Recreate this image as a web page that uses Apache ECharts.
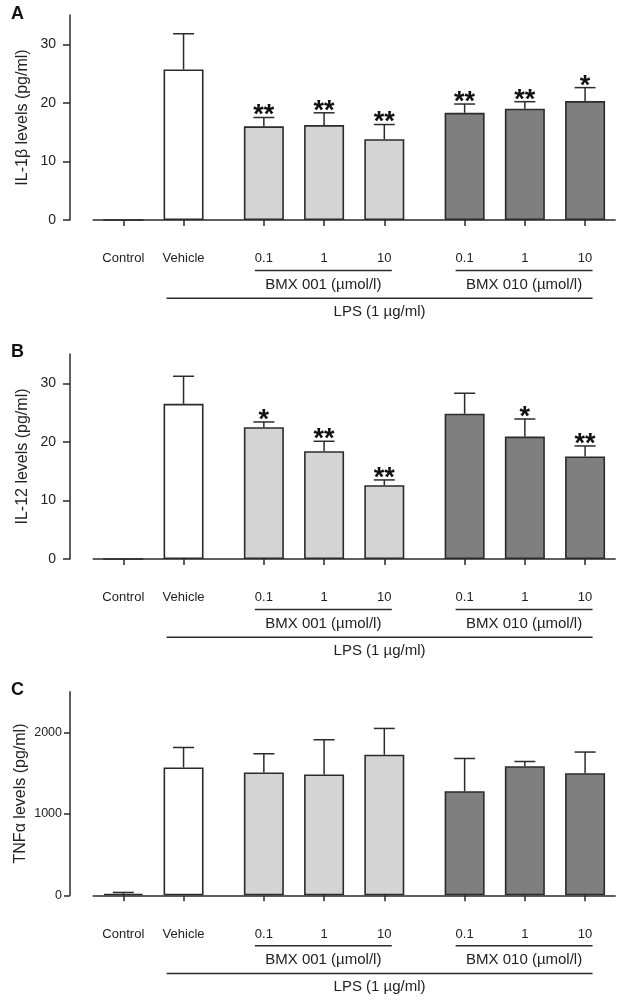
<!DOCTYPE html>
<html>
<head>
<meta charset="utf-8">
<script src="https://cdn.jsdelivr.net/npm/echarts@6/dist/echarts.min.js"></script>
<style>
html,body{margin:0;padding:0;background:#fff;}
#chart{width:627px;height:1000px;}
</style>
</head>
<body>
<div id="chart"></div>
<script>
// ---------- DATA ----------
const categories = ['Control', 'Vehicle', '0.1', '1', '10', '0.1', '1', '10'];
const treatmentGroup = ['none', 'none', 'BMX001', 'BMX001', 'BMX001', 'BMX010', 'BMX010', 'BMX010'];

const il1bMean = [0, 25.7, 16.0, 16.2, 13.8, 18.3, 19.0, 20.3];
const il1bSem  = [0, 6.1, 1.5, 2.1, 2.5, 1.5, 1.2, 2.3];
const il1bSig  = ['', '', '**', '**', '**', '**', '**', '*'];

const il12Mean = [0, 26.5, 22.5, 18.4, 12.6, 24.8, 20.9, 17.5];
const il12Sem  = [0, 4.7, 0.9, 1.7, 0.9, 3.5, 3.0, 1.8];
const il12Sig  = ['', '', '*', '**', '**', '', '*', '**'];

const tnfMean = [18, 1569, 1508, 1483, 1726, 1279, 1586, 1500];
const tnfSem  = [17, 246, 230, 427, 323, 401, 57, 259];
const tnfSig  = ['', '', '', '', '', '', '', ''];

const ilTicks  = [0, 10, 20, 30];
const tnfTicks = [0, 1000, 2000];

const groupLabels = ['BMX 001 (\u00b5mol/l)', 'BMX 010 (\u00b5mol/l)', 'LPS (1 \u00b5g/ml)'];

// ---------- LAYOUT / STYLE ----------
const slotPos = [1, 4, 8, 11, 14, 18, 21, 24];   // category slots on the x axis
const slotCount = 26;
const fillColor = { none: '#ffffff', BMX001: '#d4d4d4', BMX010: '#7f7f7f' };
const ink = '#2b2b2b';
const FONT = '"Liberation Sans", Arial, sans-serif';

const xNames = new Array(slotCount).fill('');
slotPos.forEach((s, i) => { xNames[s] = categories[i]; });
const isCat = (idx) => xNames[idx] !== '';

// bracket definitions: [first category index, last category index, label index, level]
const brackets = [[2, 4, 0, 0], [5, 7, 1, 0], [1, 7, 2, 1]];

const panels = [
  { letter: 'A', name: 'IL-1\u03b2 levels (pg/ml)', mean: il1bMean, sem: il1bSem, sig: il1bSig,
    max: 35, ticks: ilTicks, top: 15, height: 205, labSize: 14, labMargin: 14, tickLen: 7, titleTop: 5, nameGap: 39 },
  { letter: 'B', name: 'IL-12 levels (pg/ml)', mean: il12Mean, sem: il12Sem, sig: il12Sig,
    max: 35, ticks: ilTicks, top: 354, height: 205, labSize: 14, labMargin: 14, tickLen: 7, titleTop: 343, nameGap: 39 },
  { letter: 'C', name: 'TNF\u03b1 levels (pg/ml)', mean: tnfMean, sem: tnfSem, sig: tnfSig,
    max: 2500, ticks: tnfTicks, top: 691.7, height: 203.6, labSize: 12.5, labMargin: 8, tickLen: 6, titleTop: 681, nameGap: 41 }
];

const option = {
  animation: false,
  backgroundColor: '#fff',
  title: [], grid: [], xAxis: [], yAxis: [], series: []
};

panels.forEach((p, gi) => {
  option.title.push({
    text: p.letter, left: 11, top: p.titleTop, padding: 0,
    textStyle: { fontFamily: FONT, fontSize: 18, fontWeight: 'bold', color: '#111' }
  });
  option.grid.push({ left: 93.2, right: 11.8, top: p.top, height: p.height,
                     containLabel: false, outerBoundsMode: 'none' });
  option.xAxis.push({
    type: 'category', gridIndex: gi, data: xNames, offset: 23.3,
    axisLine: { show: true, lineStyle: { color: ink, width: 1.5 } },
    axisTick: { show: true, alignWithLabel: true, length: 6, interval: (i) => isCat(i),
                lineStyle: { color: ink, width: 1.5 } },
    axisLabel: { show: true, interval: (i) => isCat(i), margin: 9,
                 fontFamily: FONT, fontSize: 13, color: '#222' },
    splitLine: { show: false }
  });
  option.yAxis.push({
    type: 'value', gridIndex: gi, min: 0, max: p.max, offset: 23.2,
    name: p.name, nameLocation: 'middle', nameGap: p.nameGap, nameMoveOverlap: false,
    nameTextStyle: { fontFamily: FONT, fontSize: 16, color: '#222' },
    axisLine: { show: true, lineStyle: { color: ink, width: 1.5 } },
    axisTick: { show: true, length: p.tickLen, customValues: p.ticks, lineStyle: { color: ink, width: 1.5 } },
    axisLabel: { customValues: p.ticks, margin: p.labMargin, fontFamily: FONT, fontSize: p.labSize,
                 color: '#222', formatter: (v) => String(v) },
    splitLine: { show: false }
  });

  const barData = new Array(slotCount).fill('-');
  slotPos.forEach((s, i) => {
    barData[s] = { value: p.mean[i], itemStyle: { color: fillColor[treatmentGroup[i]] } };
  });
  option.series.push({
    type: 'bar', xAxisIndex: gi, yAxisIndex: gi, data: barData, barWidth: 40,
    barGap: '-100%', silent: true,
    itemStyle: { borderColor: ink, borderWidth: 1.6 }
  });

  // error bars + significance marks
  const errData = slotPos.map((s, i) => [s, p.mean[i], p.mean[i] + p.sem[i], i]);
  option.series.push({
    type: 'custom', xAxisIndex: gi, yAxisIndex: gi, data: errData, silent: true, clip: false, z: 5,
    renderItem: (params, api) => {
      const i = api.value(3);
      if (!(p.sem[i] > 0)) return null;
      const base = api.coord([api.value(0), api.value(1)]);
      const top = api.coord([api.value(0), api.value(2)]);
      const children = [
        { type: 'line', shape: { x1: base[0], y1: base[1], x2: top[0], y2: top[1] },
          style: { stroke: ink, lineWidth: 1.5 } },
        { type: 'line', shape: { x1: top[0] - 10.5, y1: top[1], x2: top[0] + 10.5, y2: top[1] },
          style: { stroke: ink, lineWidth: 1.5 } }
      ];
      if (p.sig[i]) {
        children.push({ type: 'text', style: {
          text: p.sig[i], x: top[0], y: top[1] - 1.5, align: 'center', verticalAlign: 'middle',
          fontFamily: FONT, fontSize: 27, fontWeight: 'bold', fill: '#111' } });
      }
      return { type: 'group', children };
    }
  });

  // group brackets under the axis
  option.series.push({
    type: 'custom', xAxisIndex: gi, yAxisIndex: gi, data: brackets, silent: true, clip: false,
    renderItem: (params, api) => {
      const b = brackets[params.dataIndex];
      const left = api.coord([slotPos[b[0]], 0]);
      const right = api.coord([slotPos[b[1]], 0]);
      const y0 = left[1];
      const lineY = y0 + (b[3] === 0 ? 50.5 : 78.2);
      const textY = y0 + (b[3] === 0 ? 65 : 92);
      const lx = left[0] - (b[3] === 0 ? 9 : 17);
      const rx = right[0] + 7.5;
      return { type: 'group', children: [
        { type: 'line', shape: { x1: lx, y1: lineY, x2: rx, y2: lineY }, style: { stroke: ink, lineWidth: 1.5 } },
        { type: 'text', style: { text: groupLabels[b[2]], x: (lx + rx) / 2, y: textY, align: 'center',
          verticalAlign: 'middle', fontFamily: FONT, fontSize: 15, fill: '#222' } }
      ] };
    }
  });
});

const chart = echarts.init(document.getElementById('chart'), null, { renderer: 'canvas' });
chart.setOption(option);
</script>
</body>
</html>
